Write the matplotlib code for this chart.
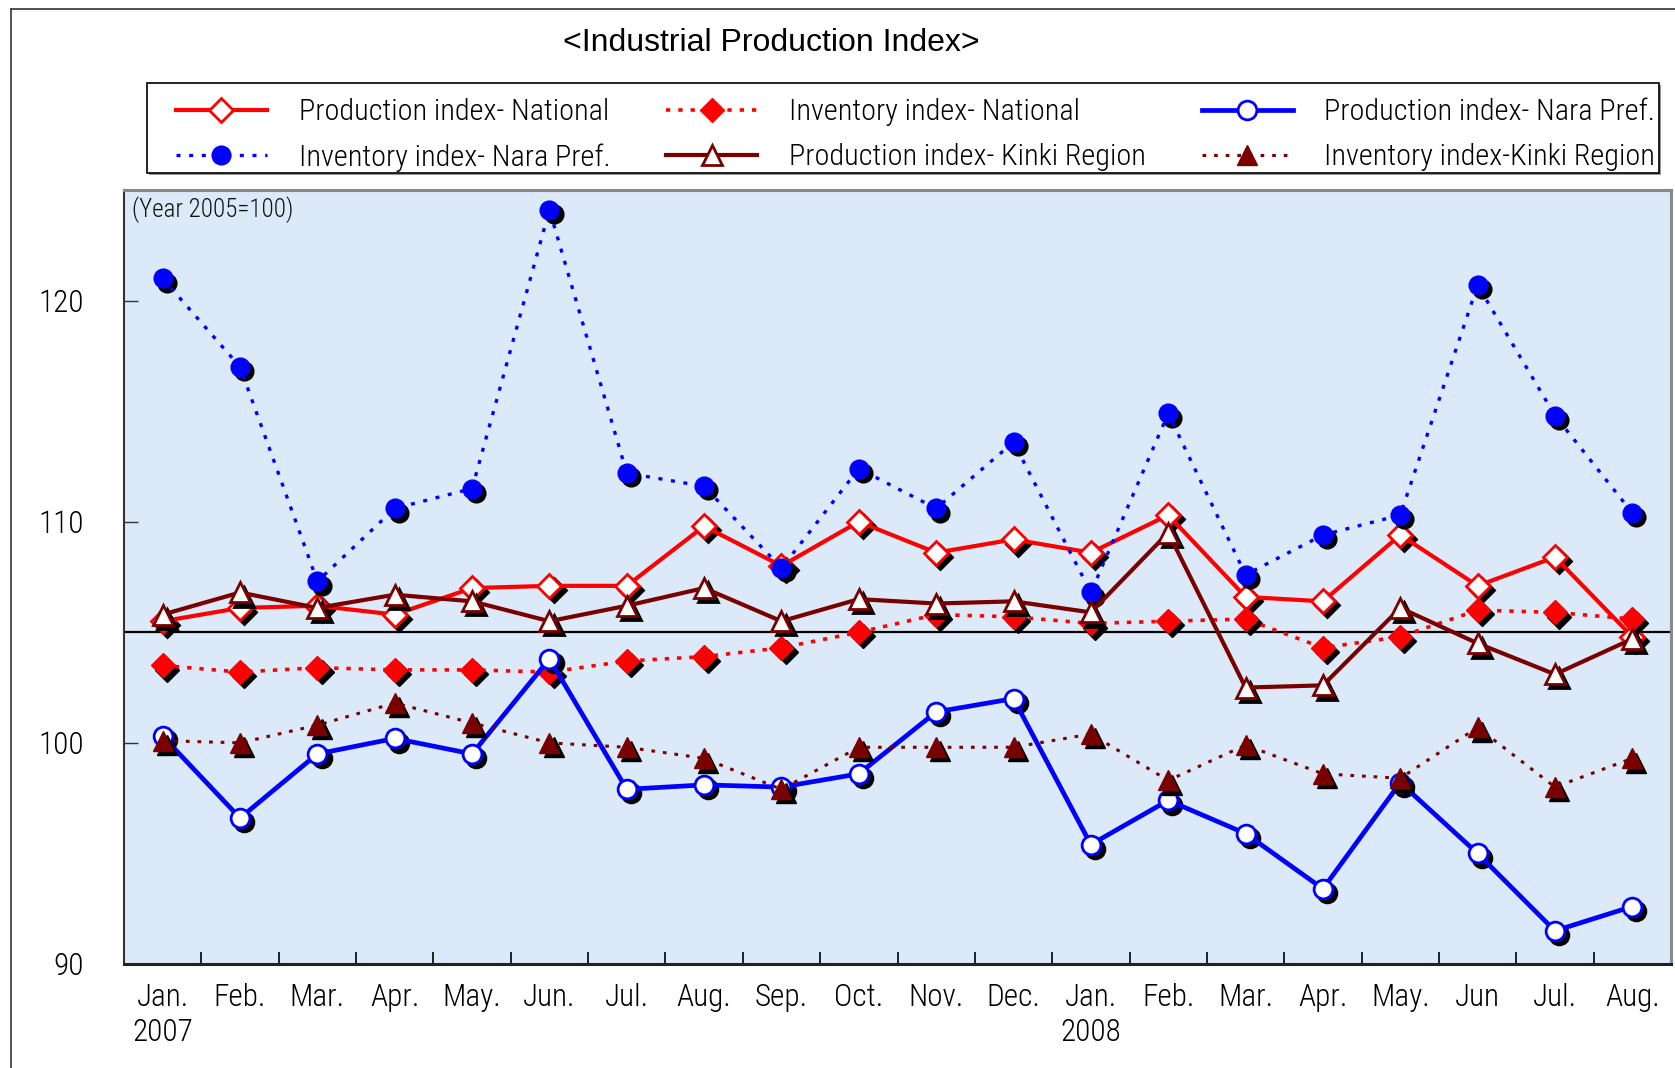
import matplotlib
matplotlib.use("Agg")
import matplotlib.pyplot as plt
import matplotlib.transforms as mtransforms
from matplotlib import font_manager
from matplotlib.lines import Line2D
from matplotlib.patches import Rectangle
import numpy as np

# ---- data (Year 2005 = 100) ----
months = ["Jan.\n2007", "Feb.", "Mar.", "Apr.", "May.", "Jun.", "Jul.", "Aug.",
          "Sep.", "Oct.", "Nov.", "Dec.", "Jan.\n2008", "Feb.", "Mar.", "Apr.",
          "May.", "Jun", "Jul.", "Aug."]

prod_national = [105.5, 106.1, 106.2, 105.8, 107.0, 107.1, 107.1, 109.8, 108.0, 110.0,
                 108.6, 109.2, 108.6, 110.3, 106.6, 106.4, 109.4, 107.1, 108.4, 104.8]
inv_national = [103.5, 103.2, 103.4, 103.3, 103.3, 103.2, 103.7, 103.9, 104.3, 105.0,
                105.8, 105.7, 105.4, 105.5, 105.6, 104.3, 104.8, 106.0, 105.9, 105.6]
prod_nara = [100.3, 96.6, 99.5, 100.2, 99.5, 103.8, 97.9, 98.1, 98.0, 98.6,
             101.4, 102.0, 95.4, 97.4, 95.9, 93.4, 98.2, 95.0, 91.5, 92.6]
inv_nara = [121.0, 117.0, 107.3, 110.6, 111.5, 124.1, 112.2, 111.6, 107.9, 112.4,
            110.6, 113.6, 106.8, 114.9, 107.6, 109.4, 110.3, 120.7, 114.8, 110.4]
prod_kinki = [105.8, 106.8, 106.1, 106.7, 106.4, 105.5, 106.2, 107.0, 105.5, 106.5,
              106.3, 106.4, 105.9, 109.5, 102.5, 102.6, 106.1, 104.5, 103.1, 104.7]
inv_kinki = [100.1, 100.0, 100.8, 101.8, 100.9, 100.0, 99.8, 99.3, 97.9, 99.8,
             99.8, 99.8, 100.4, 98.3, 99.9, 98.6, 98.4, 100.7, 98.0, 99.3]

base_level = 105
yticks = [90, 100, 110, 120]

# ---- fonts ----
available = {f.name for f in font_manager.fontManager.ttflist}
narrow = next((n for n in ["Liberation Sans Narrow", "Roboto Condensed",
                           "DejaVu Sans Condensed", "DejaVu Sans"] if n in available),
              "DejaVu Sans")
plain = "Liberation Sans" if "Liberation Sans" in available else "DejaVu Sans"
light = "light"

W, H = 1675, 1068
fig = plt.figure(figsize=(W / 100, H / 100), dpi=100)
fig.patch.set_facecolor("white")

ax_l, ax_r, ax_t, ax_b = 124, 1671, 190, 964
ax = fig.add_axes([ax_l / W, 1 - ax_b / H, (ax_r - ax_l) / W, (ax_b - ax_t) / H])
ax.set_facecolor("#dce9f9")

x = np.arange(len(months))
shadow = mtransforms.offset_copy(ax.transData, fig=fig, x=3, y=-3, units="points")

RED = "#ff0000"
BLUE = "#0000ff"
MAROON = "#7a0000"

series = [
    (prod_national, "Production index- National", RED, "-", 3.0, "D", 12.5, "white", RED, 2.0),
    (inv_national, "Inventory index- National", RED, (0, (1.2, 2.2)), 2.6, "D", 12.5, RED, RED, 1.0),
    (prod_nara, "Production index- Nara Pref.", BLUE, "-", 3.4, "o", 13.5, "white", BLUE, 2.0),
    (inv_nara, "Inventory index- Nara Pref.", BLUE, (0, (1.2, 2.6)), 2.4, "o", 13.5, BLUE, BLUE, 1.0),
    (prod_kinki, "Production index- Kinki Region", MAROON, "-", 3.0, "^", 15, "white", MAROON, 2.0),
    (inv_kinki, "Inventory index-Kinki Region", MAROON, (0, (1.2, 2.6)), 2.2, "^", 15, MAROON, MAROON, 1.0),
]

ax.axhline(base_level, color="black", lw=1.6, zorder=1.5)

handles = {}
for i, (vals, label, col, ls, lw, mk, ms, mfc, mec, mew) in enumerate(series):
    z = 3 + i
    ax.plot(x, vals, ls="none", marker=mk, ms=ms, mfc="black", mec="black",
            mew=mew, transform=shadow, zorder=z)
    ln, = ax.plot(x, vals, color=col, ls=ls, lw=lw, marker=mk, ms=ms, mfc=mfc,
                  mec=mec, mew=mew, label=label, zorder=z + 0.5)
    handles[label] = ln

ax.set_xlim(-0.5, len(months) - 0.5)
ax.set_ylim(90, 125)

ax.set_xticks(x)
ax.set_xticklabels(months, fontsize=22.5, family=narrow, weight=light, linespacing=1.22)
ax.set_xticks(np.arange(0.5, len(months) - 1, 1), minor=True)
ax.tick_params(axis="x", which="major", length=0, pad=14)
ax.tick_params(axis="x", which="minor", direction="in", length=9, width=1.2, color="black")

ax.set_yticks(yticks)
ax.set_yticklabels([str(v) for v in yticks], fontsize=22.5, family=narrow, weight=light)
ax.tick_params(axis="y", which="major", direction="in", length=10, width=1.0,
               color="#333333", pad=29)

for side in ("top", "right"):
    ax.spines[side].set_color("#8a8a8a")
    ax.spines[side].set_linewidth(2.2)
ax.spines["left"].set_color("#333333")
ax.spines["left"].set_linewidth(1.5)
ax.spines["bottom"].set_color("#222222")
ax.spines["bottom"].set_linewidth(2.2)

ax.text(0.005, 0.975, "(Year 2005=100)", transform=ax.transAxes, ha="left", va="center",
        fontsize=18, family=narrow, weight=light, color="#111111")

# chart title
fig.text(771 / W, 1 - 43 / H, "<Industrial Production Index>", ha="center", va="center",
         fontsize=23, family=plain, color="black")

# legend box with a soft shadow
lx0, ly0, lx1, ly1 = 147, 83, 1659, 173
fig.add_artist(Rectangle(((lx0 + 2) / W, 1 - (ly1 + 2) / H), (lx1 - lx0) / W, (ly1 - ly0) / H,
                         transform=fig.transFigure, facecolor="#9a9a9a", edgecolor="none",
                         zorder=1))
fig.add_artist(Rectangle((lx0 / W, 1 - ly1 / H), (lx1 - lx0) / W, (ly1 - ly0) / H,
                         transform=fig.transFigure, facecolor="white", edgecolor="black",
                         lw=1.2, zorder=2))

# legend entries, three columns filled row by row
order = ["Production index- National", "Inventory index- Nara Pref.",
         "Inventory index- National", "Production index- Kinki Region",
         "Production index- Nara Pref.", "Inventory index-Kinki Region"]
leg = fig.legend([handles[k] for k in order], order, loc="upper left",
                 bbox_to_anchor=(176 / W, 1 - 98.5 / H), ncol=3, frameon=False,
                 prop={"family": narrow, "size": 21.8, "weight": light}, handlelength=3.0,
                 handletextpad=1.05, columnspacing=1.85, labelspacing=0.55,
                 borderpad=0, borderaxespad=0)
leg.set_zorder(3)

# outer chart frame (left and top edges)
fig.add_artist(Line2D([11 / W, 11 / W], [0, 1 - 9 / H], transform=fig.transFigure,
                      color="#444444", lw=1.3))
fig.add_artist(Line2D([11 / W, 1], [1 - 9 / H, 1 - 9 / H], transform=fig.transFigure,
                      color="#444444", lw=1.3))

fig.savefig("out.png", dpi=100)
